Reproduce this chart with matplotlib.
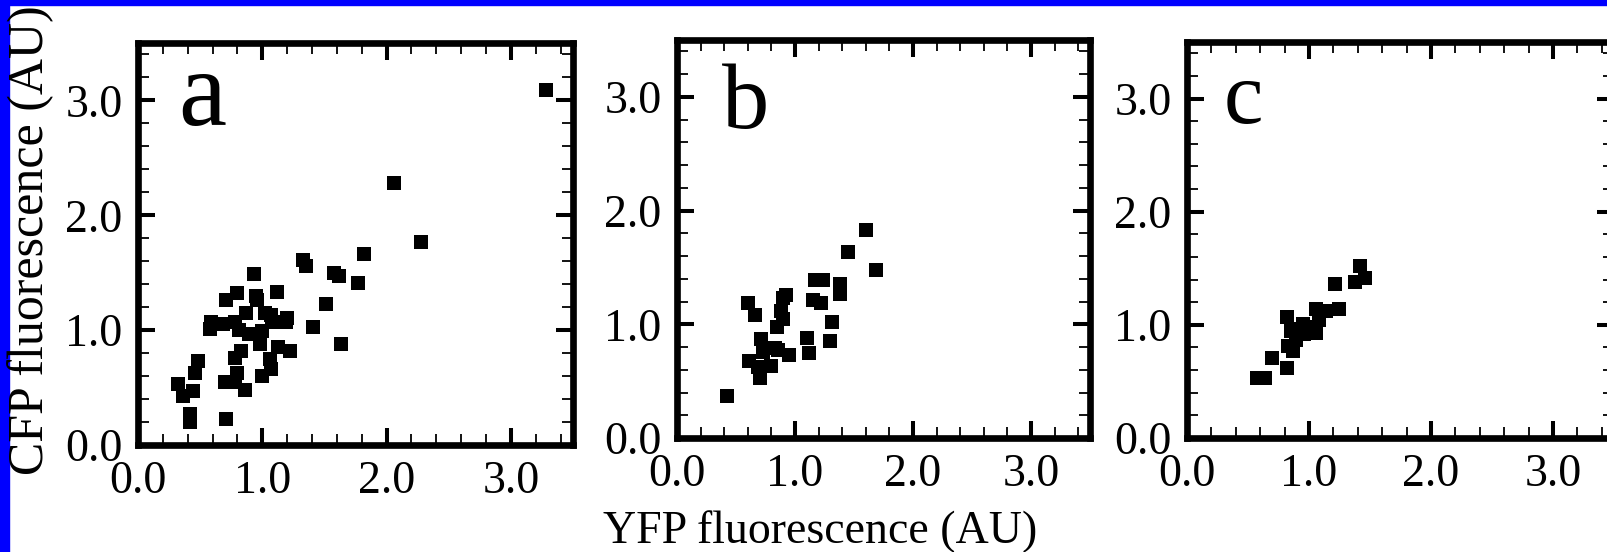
import numpy as np
import matplotlib
matplotlib.use("Agg")
import matplotlib.pyplot as plt
from matplotlib.ticker import MultipleLocator, FormatStrFormatter

plt.rcParams['font.family'] = ['Liberation Serif', 'DejaVu Serif']

# panel a: YFP (x) vs CFP (y)
a_yfp = [2.06, 2.28, 1.82, 1.77, 1.62, 1.58, 1.33, 1.35, 1.51, 1.41, 1.63,
         0.93, 1.12, 0.80, 0.71, 0.95, 0.96, 0.87, 1.02, 1.07, 1.08, 1.20,
         1.19, 0.59, 0.58, 0.68, 0.78, 0.81, 0.89, 1.00, 0.98, 0.83, 0.78,
         1.13, 1.22, 1.06, 1.07, 1.00, 0.80, 0.70, 0.78, 0.86, 0.48, 0.46,
         0.32, 0.36, 0.44, 0.42, 0.42, 0.71, 3.28]
a_cfp = [2.28, 1.77, 1.66, 1.41, 1.47, 1.50, 1.61, 1.56, 1.23, 1.03, 0.88,
         1.49, 1.33, 1.32, 1.26, 1.30, 1.26, 1.15, 1.15, 1.13, 1.07, 1.11,
         1.07, 1.07, 1.01, 1.05, 1.07, 1.00, 0.97, 0.99, 0.88, 0.82, 0.76,
         0.85, 0.82, 0.75, 0.66, 0.60, 0.63, 0.55, 0.55, 0.48, 0.73, 0.63,
         0.53, 0.43, 0.47, 0.27, 0.20, 0.23, 3.09]

# panel b
b_yfp = [0.42, 0.60, 0.66, 0.61, 0.69, 0.70, 0.71, 0.73, 0.80, 0.83, 0.85,
         0.88, 0.90, 0.92, 0.90, 0.95, 0.86, 1.10, 1.12, 1.15, 1.17, 1.22,
         1.24, 1.31, 1.30, 1.38, 1.38, 1.45, 1.60, 1.69]
b_cfp = [0.37, 1.19, 1.08, 0.68, 0.62, 0.53, 0.87, 0.76, 0.63, 0.79, 0.98,
         1.12, 1.23, 1.26, 1.05, 0.73, 0.77, 0.88, 0.75, 1.21, 1.39, 1.19,
         1.39, 1.02, 0.85, 1.35, 1.27, 1.64, 1.83, 1.48]

# panel c
c_yfp = [0.57, 0.64, 0.70, 0.82, 0.83, 0.87, 0.82, 0.85, 0.92, 0.96, 0.95,
         1.02, 1.06, 1.08, 1.06, 1.14, 1.25, 1.21, 1.38, 1.42, 1.46, 0.89]
c_cfp = [0.53, 0.53, 0.71, 0.62, 0.81, 0.77, 1.07, 0.95, 0.96, 0.92, 1.01,
         0.98, 0.93, 1.04, 1.14, 1.12, 1.14, 1.36, 1.38, 1.52, 1.41, 0.87]

panels = [("a", a_yfp, a_cfp), ("b", b_yfp, b_cfp), ("c", c_yfp, c_cfp)]
ticks = [0.0, 1.0, 2.0, 3.0]

W, H = 1608, 552
fig = plt.figure(figsize=(W / 100, H / 100), dpi=100)

# blue frame strips (left and top)
fig.patches.append(plt.Rectangle((0, 0), 9 / W, 1, transform=fig.transFigure,
                                 color="#0000ff", zorder=0))
fig.patches.append(plt.Rectangle((0, 1 - 5 / H), 1, 5 / H, transform=fig.transFigure,
                                 color="#0000ff", zorder=0))

# axes boxes in pixels: left, top, right, bottom
boxes = [(138, 43, 573, 445), (677, 40, 1090, 438), (1187, 42, 1614, 438)]
letter_pos = [(178, 125, 78), (722, 128, 68), (1224, 123, 64)]

for (name, xs, ys), (l, t, r, b), (lx, ly, lsz) in zip(panels, boxes, letter_pos):
    ax = fig.add_axes([l / W, 1 - b / H, (r - l) / W, (b - t) / H])
    ax.plot(xs, ys, "s", color="black", ms=9.5, mew=0)
    ax.set_xlim(0, 3.5)
    ax.set_ylim(0, 3.5)
    ax.set_xticks(ticks)
    ax.set_yticks(ticks)
    ax.xaxis.set_minor_locator(MultipleLocator(0.2))
    ax.yaxis.set_minor_locator(MultipleLocator(0.2))
    ax.xaxis.set_major_formatter(FormatStrFormatter("%.1f"))
    ax.yaxis.set_major_formatter(FormatStrFormatter("%.1f"))
    ax.tick_params(which="both", direction="in", top=True, right=True,
                   labelsize=33, color="black")
    ax.tick_params(which="major", length=12, width=2.9, pad=11)
    ax.tick_params(which="minor", length=8, width=1.3)
    for s in ax.spines.values():
        s.set_linewidth(4.8)
    fig.text(lx / W, 1 - ly / H, name, fontsize=lsz, ha="left", va="baseline")

fig.text(31 / W, 1 - 240 / H, "CFP fluorescence (AU)", rotation=90,
         fontsize=36, ha="center", va="center")
fig.text(820 / W, 1 - 532 / H, "YFP fluorescence (AU)",
         fontsize=33, ha="center", va="center")

fig.savefig("out.png", dpi=100)
